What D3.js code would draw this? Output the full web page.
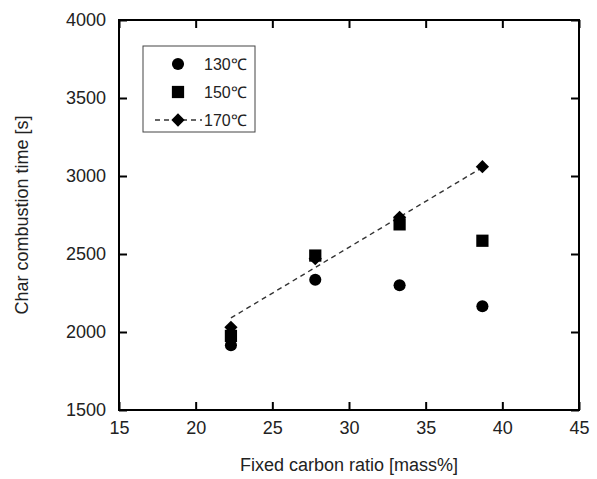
<!DOCTYPE html>
<html>
<head>
<meta charset="utf-8">
<script src="https://cdn.jsdelivr.net/npm/d3@7"></script>
<style>
  body { margin: 0; background: #fff; }
  text { font-family: "Liberation Sans", Arial, sans-serif; fill: #222; }
</style>
</head>
<body>
<svg id="chart" width="597" height="479"></svg>
<script>
// values
const fixedCarbon = [22.3, 27.8, 33.3, 38.7];
const time130 = [1915, 2335, 2300, 2165];
const time150 = [1975, 2490, 2690, 2585];
const time170 = [2030, 2470, 2735, 3060];
// dashed trend line for 170°C, end points
const trendX = [22.3, 38.7];
const trendY = [2090, 3055];
const xTicks = [15, 20, 25, 30, 35, 40, 45];
const yTicks = [1500, 2000, 2500, 3000, 3500, 4000];
const seriesNames = ["130℃", "150℃", "170℃"];

const svg = d3.select("#chart");
const plotLeft = 119, plotRight = 579, plotTop = 20, plotBottom = 410;
const TICK = 8;

const x = d3.scaleLinear().domain([15, 45]).range([plotLeft, plotRight]);
const y = d3.scaleLinear().domain([1500, 4000]).range([plotBottom, plotTop]);

// axes, ticks pointing inward on all four sides
function styleAxis(g) {
  g.select(".domain").remove();
  g.selectAll(".tick line").attr("stroke", "#000").attr("stroke-width", 2);
  g.selectAll(".tick text").style("font-size", "18px").attr("fill", "#222");
}

svg.append("g")
  .attr("transform", `translate(0,${plotBottom})`)
  .call(d3.axisBottom(x).tickValues(xTicks).tickSizeInner(-TICK).tickSizeOuter(0).tickPadding(11))
  .call(styleAxis);
svg.append("g")
  .attr("transform", `translate(0,${plotTop})`)
  .call(d3.axisTop(x).tickValues(xTicks).tickSizeInner(-TICK).tickSizeOuter(0).tickFormat(""))
  .call(styleAxis);
svg.append("g")
  .attr("transform", `translate(${plotLeft},0)`)
  .call(d3.axisLeft(y).tickValues(yTicks).tickFormat(d3.format("d"))
    .tickSizeInner(-TICK).tickSizeOuter(0).tickPadding(13))
  .call(styleAxis);
svg.append("g")
  .attr("transform", `translate(${plotRight},0)`)
  .call(d3.axisRight(y).tickValues(yTicks).tickSizeInner(-TICK).tickSizeOuter(0).tickFormat(""))
  .call(styleAxis);

// frame
svg.append("rect")
  .attr("x", plotLeft).attr("y", plotTop)
  .attr("width", plotRight - plotLeft).attr("height", plotBottom - plotTop)
  .attr("fill", "none").attr("stroke", "#000").attr("stroke-width", 2);

// axis titles
svg.append("text")
  .attr("x", (plotLeft + plotRight) / 2).attr("y", 471)
  .attr("text-anchor", "middle")
  .style("font-size", "18px")
  .text("Fixed carbon ratio [mass%]");
svg.append("text")
  .attr("transform", `translate(28,${(plotTop + plotBottom) / 2}) rotate(-90)`)
  .attr("text-anchor", "middle")
  .style("font-size", "18px")
  .text("Char combustion time [s]");

// trend line
const line = d3.line().x(d => x(d[0])).y(d => y(d[1]));
svg.append("path")
  .datum(d3.zip(trendX, trendY))
  .attr("d", line)
  .attr("fill", "none")
  .attr("stroke", "#333")
  .attr("stroke-width", 1.4)
  .attr("stroke-dasharray", "5,4");

const circleSym = d3.symbol().type(d3.symbolCircle).size(115);
const squareSym = d3.symbol().type(d3.symbolSquare).size(150);
const diamondSym = d3.symbol().type(d3.symbolSquare).size(88);

function drawSeries(values, sym, rot) {
  svg.append("g").selectAll("path")
    .data(d3.zip(fixedCarbon, values))
    .join("path")
    .attr("d", sym)
    .attr("transform", d => `translate(${x(d[0])},${y(d[1])}) rotate(${rot})`)
    .attr("fill", "#000");
}
drawSeries(time130, circleSym, 0);
drawSeries(time150, squareSym, 0);
drawSeries(time170, diamondSym, 45);

// legend
const lg = svg.append("g");
lg.append("rect")
  .attr("x", 143).attr("y", 46).attr("width", 112).attr("height", 86)
  .attr("fill", "#fff").attr("stroke", "#444").attr("stroke-width", 1);
const rows = [64, 92, 120];
const legendSyms = [[circleSym, 0], [squareSym, 0], [diamondSym, 45]];
lg.append("line")
  .attr("x1", 155).attr("x2", 202).attr("y1", rows[2]).attr("y2", rows[2])
  .attr("stroke", "#333").attr("stroke-width", 1.4).attr("stroke-dasharray", "5,4");
seriesNames.forEach((name, i) => {
  lg.append("path")
    .attr("d", legendSyms[i][0])
    .attr("transform", `translate(178,${rows[i]}) rotate(${legendSyms[i][1]})`)
    .attr("fill", "#000");
  lg.append("text")
    .attr("x", 204).attr("y", rows[i]).attr("dy", "0.35em")
    .style("font-size", "16px")
    .text(name);
});
</script>
</body>
</html>
